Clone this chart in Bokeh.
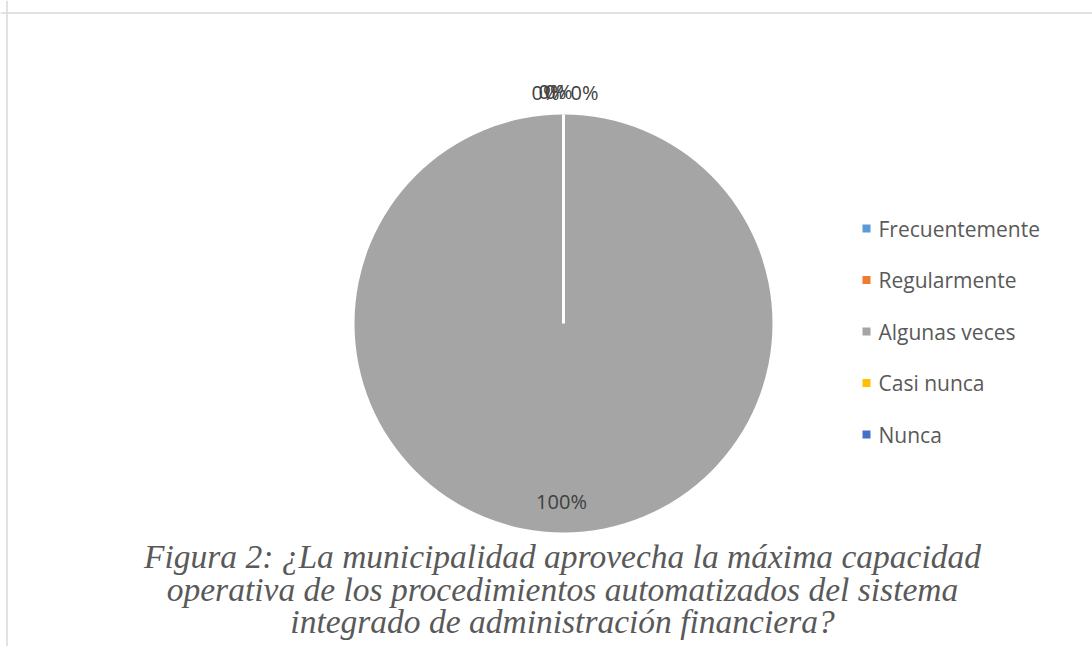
import math
from bokeh.plotting import figure
from bokeh.models import Range1d, Span
from bokeh.core.properties import value
from bokeh.embed import file_html
from bokeh.resources import INLINE

# ---- data ----
categories = ["Frecuentemente", "Regularmente", "Algunas veces", "Casi nunca", "Nunca"]
values = [0, 0, 100, 0, 0]
colors = ["#5B9BD5", "#ED7D31", "#A5A5A5", "#FFC000", "#4472C4"]
caption_lines = [
    "Figura 2: ¿La municipalidad aprovecha la máxima capacidad",
    "operativa de los procedimientos automatizados del sistema",
    "integrado de administración financiera?",
]

# ---- layout (pixel-like data space: x = page X, y = 646 - page Y) ----
W, H = 1092, 646
CX, CY, R = 563, 646 - 323, 209

p = figure(width=W, height=H, output_backend="svg", toolbar_location=None,
           x_range=Range1d(0, W), y_range=Range1d(0, H),
           min_border=0, min_border_left=0, min_border_right=0,
           min_border_top=0, min_border_bottom=0)
p.axis.visible = False
p.grid.visible = False
p.outline_line_color = None
p.background_fill_color = "white"
p.border_fill_color = "white"

# border lines (top and left) like the reference frame
p.add_layout(Span(location=646 - 12.5, dimension="width", line_color="#d9d9d9", line_width=1.5))
p.add_layout(Span(location=6.5, dimension="height", line_color="#d9d9d9", line_width=1.5))

total = float(sum(values))
starts, ends, mids = [], [], []
cum = 0.0
for v in values:
    a0 = math.pi / 2 - 2 * math.pi * cum / total
    cum += v
    a1 = math.pi / 2 - 2 * math.pi * cum / total
    starts.append(a0)
    ends.append(a1)
    mids.append((a0 + a1) / 2)

for i in range(len(values)):
    if values[i] >= total:
        # full slice: circle plus white radial border at the start angle
        p.circle(x=[CX], y=[CY], radius=R, fill_color=colors[i], line_color=None)
        p.segment(x0=[CX], y0=[CY],
                  x1=[CX + R * math.cos(starts[i])], y1=[CY + R * math.sin(starts[i])],
                  line_color="white", line_width=3)
    elif values[i] > 0:
        p.wedge(x=CX, y=CY, radius=R, start_angle=ends[i], end_angle=starts[i],
                fill_color=colors[i], line_color="white", line_width=2)

# ---- data labels ----
lab_x, lab_y, lab_t = [], [], []
zero_offsets = [-18, -11, -5, 21]
zi = 0
for i, v in enumerate(values):
    pct = f"{round(100 * v / total)}%"
    if v == 0:
        ang = starts[i]
        lab_x.append(CX + (R + 22) * math.cos(ang) + zero_offsets[zi])
        lab_y.append(CY + (R + 22) * math.sin(ang) + (1 if zi in (1, 2) else 0))
        zi += 1
    else:
        ang = mids[i]
        lab_x.append(CX + 0.85 * R * math.cos(ang) - 2)
        lab_y.append(CY + 0.85 * R * math.sin(ang))
    lab_t.append(pct)
p.text(x=lab_x, y=lab_y, text=lab_t, text_align="center", text_baseline="middle",
       text_font=value("Open Sans"), text_font_size="20px", text_color="#404040")

# ---- legend (manual) ----
leg_y = [646 - (228 + 51.5 * i) for i in range(len(categories))]
p.scatter(x=[866] * len(categories), y=leg_y, marker="square", size=8,
          fill_color=colors, line_color=None)
p.text(x=[878] * len(categories), y=leg_y, text=categories, text_align="left",
       text_baseline="middle", text_font=value("Open Sans"), text_font_size="21px",
       text_color="#595959")

# ---- caption ----
cap_y = [646 - (556 + 32.5 * i) for i in range(len(caption_lines))]
p.text(x=[562] * len(caption_lines), y=cap_y, text=caption_lines, text_align="center",
       text_baseline="middle", text_font=value("Liberation Serif"),
       text_font_style="italic", text_font_size="33.5px", text_color="#595959")

open("out.html", "w").write(file_html(p, INLINE))
